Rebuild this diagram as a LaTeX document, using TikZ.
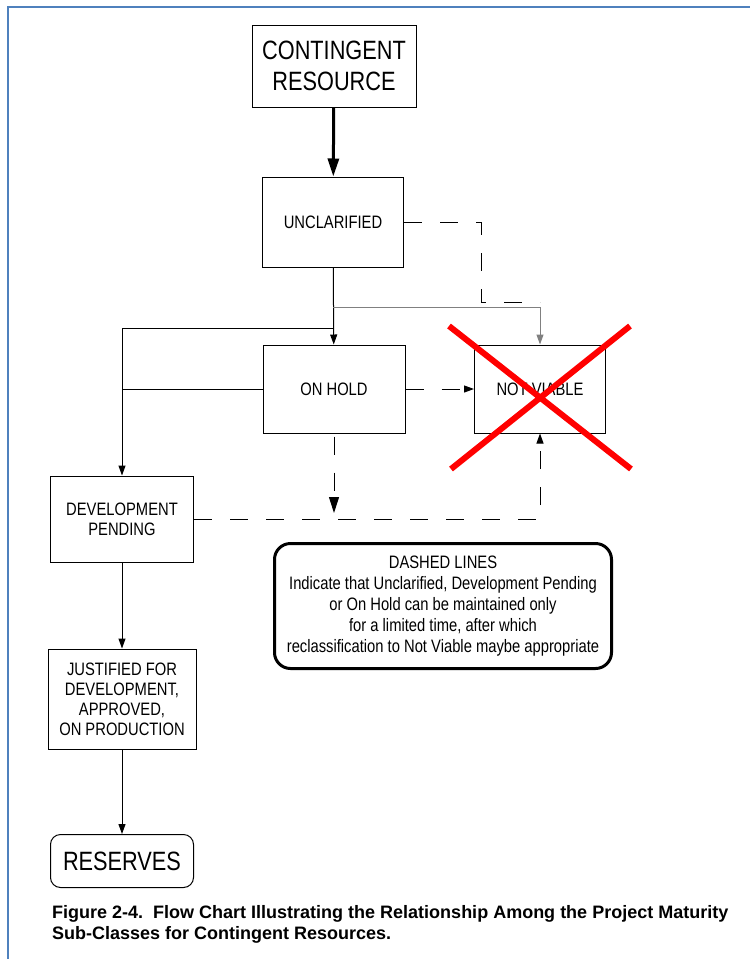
\documentclass[tikz,border=0pt]{standalone}
\usepackage{fontspec}
\setmainfont{Liberation Sans}[FakeStretch=0.82]
\newfontfamily\captionfont{Liberation Sans}
\usetikzlibrary{arrows.meta}

\definecolor{frameblue}{RGB}{79,129,189}

\tikzset{
  stage/.style={draw,line width=1pt,align=center,font=\fontsize{18}{20}\selectfont},
  bigstage/.style={stage,font=\fontsize{26.5}{31}\selectfont},
  flow/.style={line width=1pt,-{Triangle[length=10pt,width=7pt]}},
  bigflow/.style={line width=3pt,-{Triangle[length=18pt,width=11pt]}},
  dashflow/.style={line width=1pt,dash pattern=on 18pt off 18pt},
  cross/.style={draw=red,line width=6pt}
}

\begin{document}
\begin{tikzpicture}[x=1pt,y=-1pt]
\useasboundingbox (0,0) rectangle (750,959);
\draw[frameblue,line width=1.5pt] (8,959) -- (8,7) -- (750,7);

% stages
\node[bigstage,minimum width=164pt,minimum height=82pt] (contingent) at (334,66) {CONTINGENT\\RESOURCE};
\node[stage,minimum width=141pt,minimum height=90pt] (unclarified) at (333,222) {UNCLARIFIED};
\node[stage,minimum width=142pt,minimum height=88pt] (onhold) at (334,389) {ON HOLD};
\node[stage,minimum width=131pt,minimum height=88pt] (notviable) at (540,389) {NOT VIABLE};
\node[stage,minimum width=143pt,minimum height=86pt] (devpending) at (122,519) {DEVELOPMENT\\PENDING};
\node[stage,minimum width=148pt,minimum height=100pt] (justified) at (122,699) {JUSTIFIED FOR\\DEVELOPMENT,\\APPROVED,\\ON PRODUCTION};
\node[bigstage,rounded corners=10pt,minimum width=143pt,minimum height=53pt] (reserves) at (122,861) {RESERVES};

% note
\node[draw,line width=3pt,rounded corners=16pt,minimum width=337pt,minimum height=125pt,align=center,
  font=\fontsize{18}{21}\selectfont] (note) at (443,606)
  {DASHED LINES\\Indicate that Unclarified, Development Pending\\or On Hold can be maintained only\\for a limited time, after which\\reclassification to Not Viable maybe appropriate};

% solid connectors
\coordinate (split1) at (333,307);
\coordinate (split2) at (333,328);
\draw[bigflow] (contingent) -- (unclarified);
\draw[flow] (unclarified) -- (onhold);
\draw[flow] (split2) -| (devpending);
\draw[line width=1pt] (onhold.west) -- (onhold -| devpending);
\draw[flow,draw=gray] (split1) -| (notviable.north);
\draw[flow] (devpending) -- (justified);
\draw[flow] (justified) -- (reserves);

% dashed connectors
\coordinate (bend1) at (481,302);
\coordinate (hold1) at (334,513);
\draw[dashflow] (unclarified.east) -| (bend1) -- (bend1 -| notviable);
\draw[dashflow,flow] (onhold) -- (notviable);
\draw[dashflow,line width=1pt,-{Triangle[length=16pt,width=10pt]},dash phase=-3pt] (onhold) -- (hold1);
\draw[dashflow,flow] (devpending.east) -| (notviable.south);

% red cross
\draw[cross] (449,326) -- (631,469) (630,326) -- (451,469);

% caption
\node[anchor=north west,align=left,inner sep=0pt,font=\captionfont\bfseries\fontsize{18}{21}\selectfont] (caption) at (52,905)
  {Figure 2-4.\ \ Flow Chart Illustrating the Relationship Among the Project Maturity\\Sub-Classes for Contingent Resources.};
\end{tikzpicture}
\end{document}
